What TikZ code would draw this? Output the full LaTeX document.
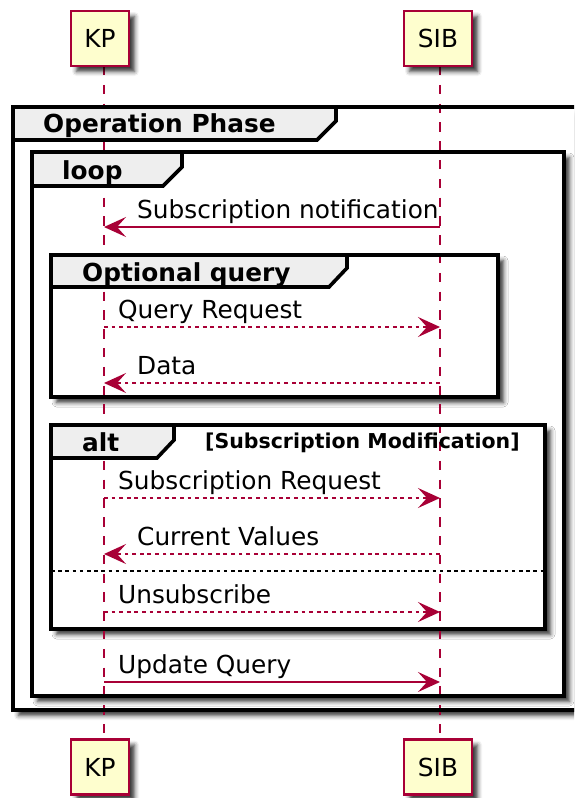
\documentclass[tikz,border=0pt]{standalone}
\usepackage{fontspec}
\setmainfont{DejaVu Sans}
\usetikzlibrary{arrows.meta,shadows.blur}
\definecolor{umlred}{HTML}{A80036}
\definecolor{umlfill}{HTML}{FEFECE}
\definecolor{tabgray}{HTML}{EEEEEE}
\tikzset{
  softshadow/.style={blur shadow={shadow xshift=5.5pt, shadow yshift=-5.5pt,
      shadow blur radius=4.5pt, shadow opacity=80}},
  actorbox/.style={draw=umlred, fill=umlfill, line width=2.6pt,
      minimum height=55pt, inner sep=0pt,
      font=\fontsize{24.8}{28}\selectfont, softshadow},
  lifeline/.style={draw=umlred, line width=2pt, dash pattern=on 9.4pt off 9.4pt},
  framebody/.style={fill=white, softshadow},
  frameline/.style={draw=black, line width=3.6pt},
  tabshape/.style={draw=black, fill=tabgray, line width=3.6pt, line join=miter},
  framelabel/.style={anchor=base west, inner sep=0pt,
      font=\fontsize{24.8}{28}\selectfont\bfseries},
  guardlabel/.style={anchor=base west, inner sep=0pt,
      font=\fontsize{20.5}{24}\selectfont\bfseries},
  msglabel/.style={anchor=base west, inner sep=0pt,
      font=\fontsize{24.8}{28}\selectfont},
  msg/.style={draw=umlred, line width=2pt,
      -{Stealth[length=22pt, width=20pt, inset=9pt, fill=umlred]}},
  reply/.style={msg, dash pattern=on 3.8pt off 3.8pt},
  separator/.style={draw=black, line width=2pt, dash pattern=on 3.6pt off 3.6pt}
}
\begin{document}
\begin{tikzpicture}[x=1pt, y=-1pt]
\useasboundingbox (0,0) rectangle (574,798);
\clip (0,0) rectangle (574,798);

% group bodies, outermost first, so each inner shadow lies on its parent
\path[framebody] (13,107) rectangle (580,710);
\path[framebody] (32,152) rectangle (564,696);
\path[framebody] (51,255) rectangle (498,397);
\path[framebody] (51,425) rectangle (545,629);

% lifelines
\coordinate (kpA) at (104,66);
\coordinate (kpB) at (104,739);
\coordinate (sibA) at (440,66);
\coordinate (sibB) at (440,739);
\draw[lifeline] (kpA) -- (kpB);
\draw[lifeline] (sibA) -- (sibB);

% group borders and header tabs
\draw[frameline] (13,107) rectangle (580,710);
\draw[tabshape] (13,107) -- (336,107) -- (336,121) -- (317,140) -- (13,140) -- cycle;
\node[framelabel] (opLbl) at (43,132) {Operation Phase};

\draw[frameline] (32,152) rectangle (564,696);
\draw[tabshape] (32,152) -- (182,152) -- (182,167) -- (163,186) -- (32,186) -- cycle;
\node[framelabel] (loopLbl) at (62,179) {loop};

\draw[frameline] (51,255) rectangle (498,397);
\draw[tabshape] (51,255) -- (347,255) -- (347,268) -- (329,287) -- (51,287) -- cycle;
\node[framelabel] (optLbl) at (82,281) {Optional query};

\draw[frameline] (51,425) rectangle (545,629);
\draw[tabshape] (51,425) -- (174,425) -- (174,440) -- (157,458) -- (51,458) -- cycle;
\node[framelabel] (altLbl) at (82,451) {alt};
\node[guardlabel] (altGuard) at (205,448) {[Subscription Modification]};
\coordinate (sepL) at (51,571);
\coordinate (sepR) at (545,571);
\draw[separator] (sepL) -- (sepR);

% messages
\coordinate (k1) at (104,227); \coordinate (s1) at (440,227);
\draw[msg] (s1) -- (k1);
\node[msglabel] (m1) at (137,218.5) {Subscription notification};

\coordinate (k2) at (104,327); \coordinate (s2) at (440,327);
\draw[reply] (k2) -- (s2);
\node[msglabel] (m2) at (118,318.5) {Query Request};

\coordinate (k3) at (104,383); \coordinate (s3) at (440,383);
\draw[reply] (s3) -- (k3);
\node[msglabel] (m3) at (137,374.5) {Data};

\coordinate (k4) at (104,498); \coordinate (s4) at (440,498);
\draw[reply] (k4) -- (s4);
\node[msglabel] (m4) at (118,489.5) {Subscription Request};

\coordinate (k5) at (104,554); \coordinate (s5) at (440,554);
\draw[reply] (s5) -- (k5);
\node[msglabel] (m5) at (137,545.5) {Current Values};

\coordinate (k6) at (104,612); \coordinate (s6) at (440,612);
\draw[reply] (k6) -- (s6);
\node[msglabel] (m6) at (118,603.5) {Unsubscribe};

\coordinate (k7) at (104,682); \coordinate (s7) at (440,682);
\draw[msg] (k7) -- (s7);
\node[msglabel] (m7) at (118,673.5) {Update Query};

% participants, top and bottom
\node[actorbox, minimum width=58pt] (kpTop) at (100,38.5) {KP};
\node[actorbox, minimum width=68pt] (sibTop) at (438,38.5) {SIB};
\node[actorbox, minimum width=58pt] (kpBot) at (100,767) {KP};
\node[actorbox, minimum width=68pt] (sibBot) at (438,767) {SIB};
\end{tikzpicture}
\end{document}
